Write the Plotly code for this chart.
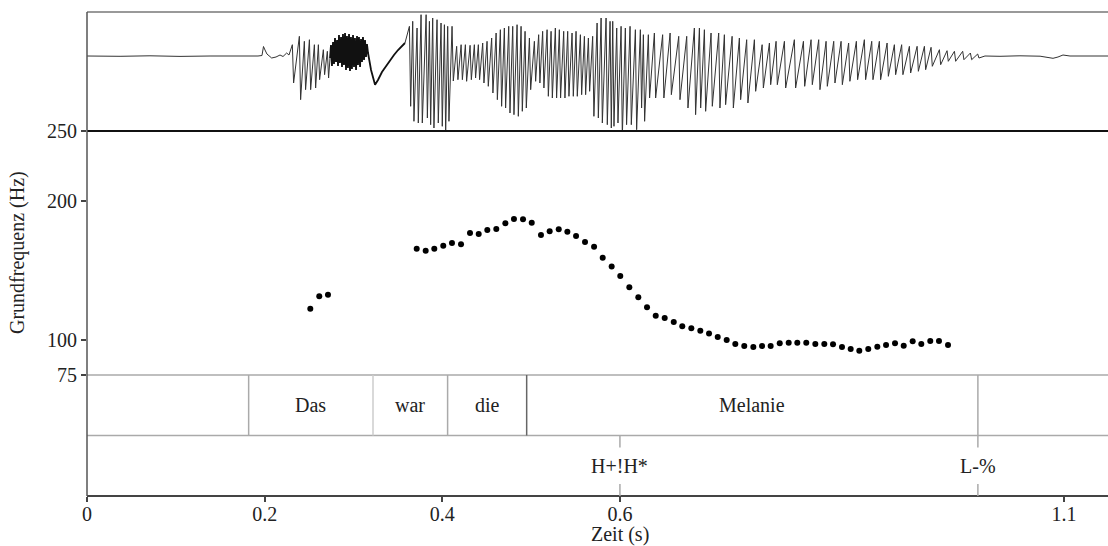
import plotly.graph_objects as go

# ---------------- data ----------------
# Pitch track (Grundfrequenz), time in s, F0 in Hz
pitch_time = [0.2514, 0.2615, 0.2713,
              0.3712, 0.3813, 0.3910, 0.4011, 0.4109, 0.4211, 0.4312, 0.4410, 0.4507, 0.4608,
              0.4710, 0.4807, 0.4909, 0.5007, 0.5111, 0.5209, 0.5311, 0.5408, 0.5506, 0.5607,
              0.5709, 0.5806, 0.5907, 0.6004, 0.6106, 0.6207, 0.6305, 0.6403, 0.6504, 0.6606,
              0.6702, 0.6804, 0.6905, 0.7003, 0.7101, 0.7202, 0.7299, 0.7400, 0.7502, 0.7600,
              0.7697, 0.7799, 0.7900, 0.7997, 0.8098, 0.8200, 0.8301, 0.8399, 0.8500, 0.8598,
              0.8695, 0.8796, 0.8898, 0.8996, 0.9097, 0.9195, 0.9296, 0.9393, 0.9494, 0.9592,
              0.9694]
pitch_hz = [122.6, 131.4, 132.6,
            165.6, 164.1, 165.6, 167.7, 169.7, 168.7, 176.8, 176.1, 179.0, 179.7,
            183.8, 186.9, 186.7, 184.2, 175.4, 178.1, 179.5, 177.8, 174.7, 170.4,
            167.0, 159.1, 152.9, 146.0, 137.9, 130.7, 123.6, 117.5, 115.9, 113.0,
            110.0, 108.5, 106.8, 104.7, 102.3, 100.1, 97.2, 95.8, 95.1, 95.8,
            95.8, 97.7, 98.2, 98.2, 98.2, 97.2, 97.2, 97.0, 95.1, 93.6,
            92.4, 93.6, 95.3, 96.5, 97.7, 96.0, 99.2, 97.2, 99.4, 99.4,
            96.5]

# Word tier: interval boundaries (s) and labels
word_bounds = [0.182, 0.322, 0.406, 0.495, 1.003]
word_labels = ["Das", "war", "die", "Melanie"]
# Tone tier: point times and labels
tone_time = [0.600, 1.003]
tone_labels = ["H+!H*", "L-%"]

x_ticks = [0, 0.2, 0.4, 0.6, 1.1]
x_ticktext = ["0", "0.2", "0.4", "0.6", "1.1"]
y_ticks = [75, 100, 200, 250]
t_end = 1.1495

# Waveform (relative amplitude)
wave_lead_t = [0.0, 0.0372, 0.0709, 0.1047, 0.1385, 0.1723, 0.1925, 0.1970, 0.1987, 0.2004,
               0.2026, 0.2079, 0.2128, 0.2173, 0.2207, 0.2248, 0.2274]
wave_lead_a = [0, -0.006, 0.004, -0.008, 0, -0.004, 0, 0.01, 0.19, 0.12,
               0.04, -0.04, -0.02, 0.02, -0.01, 0.06, 0.02]

# voiced cycles "Das": (time, peak, trough)
cycles_das = [(0.2319, 0.226, -0.54), (0.2398, 0.394, -0.874), (0.2454, 0.294, -0.674),
              (0.2511, 0.326, -0.674), (0.2567, 0.226, -0.64), (0.2612, 0.226, -0.474),
              (0.2668, 0.126, -0.374), (0.2713, 0.094, -0.44)]

# frication noise of /s/ and the following dip
wave_noise_t = [0.2736, 0.2747, 0.2758, 0.2770, 0.2781, 0.2792, 0.2803, 0.2815, 0.2826, 0.2837,
                0.2848, 0.2860, 0.2871, 0.2882, 0.2893, 0.2905, 0.2916, 0.2927, 0.2938, 0.2950,
                0.2961, 0.2972, 0.2983, 0.2995, 0.3006, 0.3017, 0.3029, 0.3040, 0.3051, 0.3062,
                0.3074, 0.3085, 0.3096, 0.3107, 0.3119, 0.3130, 0.3141, 0.3152, 0.3164,
                0.3198, 0.3243, 0.3276, 0.3321, 0.3366, 0.3412, 0.3456, 0.3502, 0.3547, 0.3580]
wave_noise_a = [-0.04, 0.22, -0.2, 0.28, -0.16, 0.36, -0.12, 0.32, -0.2, 0.42,
                -0.14, 0.38, -0.22, 0.44, -0.18, 0.46, -0.28, 0.4, -0.24, 0.44,
                -0.3, 0.38, -0.26, 0.42, -0.22, 0.36, -0.28, 0.4, -0.18, 0.38,
                -0.22, 0.34, -0.12, 0.38, -0.08, 0.32, -0.02, 0.24, 0.06,
                -0.28, -0.574, -0.48, -0.32, -0.2, -0.08, 0.02, 0.12, 0.2, 0.26]

# voiced cycles "war die Melanie": (time, peak, trough)
cycles_main = [
    (0.3637, 0.594, -1.006), (0.3674, 0.694, -1.306), (0.3723, 0.56, -1.34),
    (0.3768, 0.826, -1.34), (0.3825, 0.826, -1.24), (0.3862, 0.694, -1.374),
    (0.3899, 0.76, -1.44), (0.3948, 0.726, -1.34), (0.3993, 0.66, -1.406),
    (0.4031, 0.626, -1.574), (0.4068, 0.594, -1.306), (0.4117, 0.594, -0.5),
    (0.4169, 0.194, -0.474), (0.4219, 0.226, -0.474), (0.4267, 0.226, -0.506),
    (0.4320, 0.214, -0.474), (0.4368, 0.226, -0.44), (0.4413, 0.226, -0.474),
    (0.4462, 0.26, -0.54), (0.4511, 0.294, -0.606), (0.4563, 0.36, -0.74),
    (0.4613, 0.46, -0.874), (0.4661, 0.526, -1.006), (0.4706, 0.56, -1.04),
    (0.4755, 0.594, -1.14), (0.4800, 0.594, -1.174), (0.4849, 0.626, -1.206),
    (0.4894, 0.594, -1.106), (0.4939, 0.494, -1.04), (0.4988, 0.36, -0.674),
    (0.5044, 0.294, -0.506), (0.5092, 0.426, -0.54), (0.5137, 0.494, -0.64),
    (0.5187, 0.526, -0.806), (0.5232, 0.494, -0.84), (0.5280, 0.56, -0.84),
    (0.5325, 0.526, -0.84), (0.5374, 0.494, -0.84), (0.5419, 0.494, -0.806),
    (0.5468, 0.46, -0.806), (0.5513, 0.494, -0.806), (0.5562, 0.426, -0.774),
    (0.5607, 0.394, -0.774), (0.5652, 0.36, -0.706), (0.5700, 0.394, -1.206),
    (0.5750, 0.66, -1.24), (0.5795, 0.76, -1.34), (0.5851, 0.76, -1.374),
    (0.5896, 0.694, -1.44), (0.5926, 0.694, -1.406), (0.5971, 0.56, -1.34),
    (0.6020, 0.594, -1.606), (0.6068, 0.56, -1.374), (0.6121, 0.594, -1.374),
    (0.6181, 0.526, -1.474), (0.6237, 0.526, -1.04), (0.6271, 0.426, -1.306),
    (0.6327, 0.426, -0.84), (0.6395, 0.46, -0.84), (0.6488, 0.426, -0.84),
    (0.6572, 0.46, -0.774), (0.6669, 0.394, -0.874), (0.6759, 0.394, -1.04),
    (0.6845, 0.56, -1.174), (0.6902, 0.56, -1.04), (0.6958, 0.526, -1.106),
    (0.7033, 0.46, -1.006), (0.7119, 0.46, -1.04), (0.7183, 0.426, -0.974),
    (0.7270, 0.394, -1.04), (0.7352, 0.36, -0.874), (0.7434, 0.326, -0.94),
    (0.7521, 0.326, -0.706), (0.7608, 0.226, -0.64), (0.7690, 0.26, -0.574),
    (0.7765, 0.294, -0.574), (0.7859, 0.294, -0.64), (0.7971, 0.326, -0.64),
    (0.8073, 0.294, -0.606), (0.8159, 0.326, -0.574), (0.8245, 0.326, -0.674),
    (0.8328, 0.294, -0.606), (0.8414, 0.294, -0.54), (0.8497, 0.294, -0.574),
    (0.8582, 0.26, -0.506), (0.8669, 0.294, -0.474), (0.8759, 0.326, -0.474),
    (0.8842, 0.294, -0.474), (0.8928, 0.294, -0.474), (0.9015, 0.26, -0.406),
    (0.9097, 0.226, -0.374), (0.9179, 0.226, -0.374), (0.9266, 0.194, -0.34),
    (0.9353, 0.194, -0.306), (0.9435, 0.194, -0.274), (0.9510, 0.174, -0.206),
    (0.9604, 0.126, -0.174), (0.9690, 0.106, -0.106), (0.9773, 0.094, -0.106),
    (0.9866, 0.094, -0.074), (0.9953, 0.06, -0.074), (1.0035, 0.04, -0.04)]

wave_tail_t = [1.0110, 1.0279, 1.0504, 1.0730, 1.0876, 1.0932, 1.0988, 1.1067, 1.1292, 1.1495]
wave_tail_a = [0, -0.006, 0.004, -0.004, -0.046, -0.02, 0.02, 0, -0.004, 0]

# ---------------- assemble waveform polylines ----------------
half = 0.0007  # half-width of a stroke (drawing style)
wt1, wa1 = list(wave_lead_t), list(wave_lead_a)
for t, p, tr in cycles_das:
    wt1 += [t - half, t + half]
    wa1 += [p, tr]
wt1.append(wave_noise_t[0])
wa1.append(wave_noise_a[0])

wt2, wa2 = [wave_noise_t[-1]], [wave_noise_a[-1]]
for t, p, tr in cycles_main:
    wt2 += [t - half, t + half]
    wa2 += [p, tr]
wt2 += wave_tail_t
wa2 += wave_tail_a

FONT = "Liberation Serif"
W, H = 1108, 546
ml, mr, mt, mb = 87, 0, 12, 50
ph = H - mt - mb  # 484

def py(pix):
    """pixel row -> paper fraction"""
    return (H - mb - pix) / ph

y_wave_bot = py(131)
y_t1_top = py(375)
y_t1_bot = py(435.5)

fig = go.Figure()

for xs, ys, col, wd in [(wt1, wa1, "#333333", 1), (wave_noise_t, wave_noise_a, "#111111", 1.8),
                        (wt2, wa2, "#333333", 1)]:
    fig.add_trace(go.Scatter(x=xs, y=ys, mode="lines", xaxis="x", yaxis="y2",
                             line=dict(color=col, width=wd), hoverinfo="skip",
                             showlegend=False))
fig.add_trace(go.Scatter(x=pitch_time, y=pitch_hz, mode="markers", xaxis="x", yaxis="y",
                         marker=dict(color="black", size=6), showlegend=False))

shapes = []
def hline(y, color, width):
    shapes.append(dict(type="line", xref="paper", yref="paper", x0=0, x1=1, y0=y, y1=y,
                       line=dict(color=color, width=width)))

hline(1, "#777777", 1.5)
hline(y_wave_bot, "#111111", 2)
hline(y_t1_top, "#aaaaaa", 1.5)
hline(y_t1_bot, "#aaaaaa", 1.5)
hline(0, "#444444", 2)
shapes.append(dict(type="line", xref="paper", yref="paper", x0=0, x1=0, y0=0, y1=1,
                   line=dict(color="#555555", width=1.5)))

bound_colors = ["#aaaaaa", "#cccccc", "#aaaaaa", "#666666", "#aaaaaa"]
for b, c in zip(word_bounds, bound_colors):
    shapes.append(dict(type="line", xref="x", yref="paper", x0=b, x1=b,
                       y0=y_t1_bot, y1=y_t1_top, line=dict(color=c, width=1.5)))
tick_h = 12 / ph
for t in tone_time:
    shapes.append(dict(type="line", xref="x", yref="paper", x0=t, x1=t,
                       y0=y_t1_bot - tick_h, y1=y_t1_bot, line=dict(color="#aaaaaa", width=1.5)))
    shapes.append(dict(type="line", xref="x", yref="paper", x0=t, x1=t,
                       y0=0, y1=tick_h, line=dict(color="#aaaaaa", width=1.5)))

annotations = []
tf = dict(family=FONT, size=20, color="#222222")
for i, lab in enumerate(word_labels):
    xc = (word_bounds[i] + word_bounds[i + 1]) / 2
    annotations.append(dict(x=xc, y=(y_t1_top + y_t1_bot) / 2, xref="x", yref="paper",
                            text=lab, showarrow=False, font=tf, xanchor="center", yanchor="middle"))
for t, lab in zip(tone_time, tone_labels):
    annotations.append(dict(x=t, y=y_t1_bot / 2, xref="x", yref="paper", text=lab,
                            showarrow=False, font=tf, xanchor="center", yanchor="middle"))
annotations.append(dict(x=0.6, y=py(548), xref="x", yref="paper", text="Zeit (s)",
                        showarrow=False, font=tf, xanchor="center", yanchor="bottom"))
annotations.append(dict(x=(18 - ml) / (W - ml - mr), y=py(253), xref="paper", yref="paper",
                        text="Grundfrequenz (Hz)", textangle=-90, showarrow=False, font=tf,
                        xanchor="center", yanchor="middle"))

fig.update_layout(
    width=W, height=H,
    margin=dict(l=ml, r=mr, t=mt, b=mb, pad=0),
    paper_bgcolor="white", plot_bgcolor="white",
    font=dict(family=FONT, size=20, color="#222222"),
    xaxis=dict(range=[0, t_end], tickvals=x_ticks, ticktext=x_ticktext, ticks="outside",
               ticklen=5, tickwidth=1.5, tickcolor="#444444", showgrid=False, zeroline=False,
               showline=False, anchor="free", position=0, tickfont=tf,
               ticklabelstandoff=-5),
    yaxis=dict(domain=[y_t1_top, y_wave_bot], range=[75, 250], tickvals=y_ticks,
               ticks="outside", ticklen=5, tickwidth=1.5, tickcolor="#444444",
               showgrid=False, zeroline=False, showline=False, tickfont=tf),
    yaxis2=dict(domain=[y_wave_bot, 1], range=[-1.5, 0.88], visible=False, anchor="x"),
    shapes=shapes, annotations=annotations,
    showlegend=False,
)

fig.write_html("out.html", config={"displayModeBar": False},
               post_script="document.body.style.margin='0';document.body.style.padding='0';")
